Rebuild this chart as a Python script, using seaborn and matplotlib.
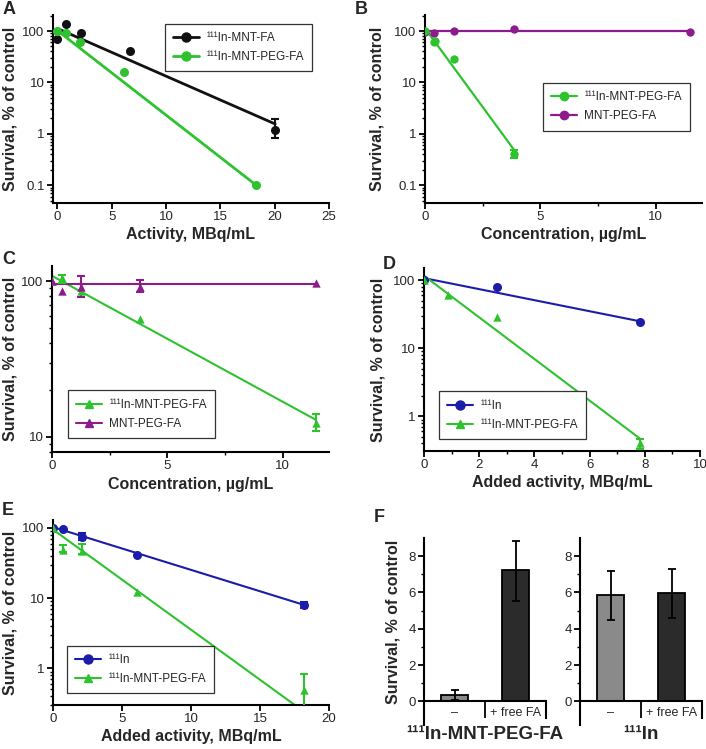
import matplotlib
matplotlib.use("Agg")
import matplotlib.pyplot as plt
import matplotlib.ticker as mticker
from matplotlib.lines import Line2D
import seaborn as sns
import numpy as np

# ---------------- data ----------------
# panel A: activity (MBq/mL) vs survival (%)
a_fa_x = [0, 0.8, 2.2, 6.7, 20.05]
a_fa_y = [69, 135, 92, 41, 1.2]
a_fa_err_x = [20.05]
a_fa_err_lo = [0.82]
a_fa_err_hi = [1.95]
a_fa_fit_x = [0, 20.05]
a_fa_fit_y = [112, 1.55]
a_peg_x = [0, 0.8, 2.1, 6.1, 18.3]
a_peg_y = [100, 90, 60, 16, 0.1]
a_peg_fit_x = [0, 18.3]
a_peg_fit_y = [102, 0.1]

# panel B: concentration (ug/mL)
b_peg_x = [0, 0.39, 0.42, 1.27, 3.84]
b_peg_y = [100, 60, 64, 29, 0.4]
b_peg_err_x = [3.84]
b_peg_err_lo = [0.34]
b_peg_err_hi = [0.48]
b_peg_fit_x = [0, 3.84]
b_peg_fit_y = [113, 0.5]
b_mnt_x = [0, 0.4, 1.27, 3.84, 11.49]
b_mnt_y = [96, 90, 100, 108, 97]
b_mnt_fit_x = [0, 11.49]
b_mnt_fit_y = [99, 99]

# panel C
c_peg_x = [0, 0.43, 1.27, 3.81, 11.42]
c_peg_y = [100, 104, 87, 57.5, 12.2]
c_peg_err_x = [0.43, 11.42]
c_peg_err_lo = [97.6, 10.9]
c_peg_err_hi = [110, 14]
c_peg_fit_x = [0, 11.42]
c_peg_fit_y = [108, 12.9]
c_mnt_x = [0, 0.43, 1.27, 3.81, 11.42]
c_mnt_y = [100, 86.6, 92, 92, 96.7]
c_mnt_err_x = [1.27, 3.81]
c_mnt_err_lo = [79, 85]
c_mnt_err_hi = [108, 101]
c_mnt_fit_x = [0, 11.42]
c_mnt_fit_y = [96, 96]

# panel D: added activity (MBq/mL)
d_in_x = [0, 2.63, 7.83]
d_in_y = [100, 79, 24.4]
d_in_fit_x = [0, 7.83]
d_in_fit_y = [108, 25]
d_peg_x = [0, 0.88, 2.63, 7.83]
d_peg_y = [100, 61.6, 28.5, 0.4]
d_peg_err_x = [7.83]
d_peg_err_lo = [0.33]
d_peg_err_hi = [0.47]
d_peg_fit_x = [0, 7.83]
d_peg_fit_y = [117, 0.47]

# panel E
e_in_x = [0, 0.73, 2.11, 6.12, 18.2]
e_in_y = [100, 98, 74.5, 40.9, 8.0]
e_in_err_x = [2.11, 18.2]
e_in_err_lo = [67, 7.3]
e_in_err_hi = [85, 8.9]
e_in_fit_x = [0, 18.2]
e_in_fit_y = [103, 8.0]
e_peg_x = [0, 0.73, 2.11, 6.12, 18.2]
e_peg_y = [100, 49.3, 47, 12.4, 0.49]
e_peg_err_x = [0.73, 2.11, 18.2]
e_peg_err_lo = [45.6, 42, 0.2]
e_peg_err_hi = [58, 60, 0.82]
e_peg_fit_x = [0, 18.2]
e_peg_fit_y = [95, 0.24]

# panel F: bars
f_cats = ["\u2013", "+ free FA"]
f_peg_vals = [0.33, 7.22]
f_peg_lo = [0.05, 5.52]
f_peg_hi = [0.64, 8.86]
f_in_vals = [5.85, 5.97]
f_in_lo = [4.48, 4.57]
f_in_hi = [7.18, 7.29]

# ---------------- style ----------------
sns.set_theme(style="ticks")
plt.rcParams["font.family"] = ["Liberation Sans", "DejaVu Sans"]
plt.rcParams["axes.linewidth"] = 1.5

GREEN = "#2fc22f"
BLACK = "#111111"
PURPLE = "#8c1b8c"
BLUE = "#1c1caa"
GRAY = "#8a8a8a"
DARK = "#2b2b2b"

YLAB = "Survival, % of control"
TICK_FS = 9.5
LAB_FS = 11.5
LEG_FS = 8.5

W, H = 706, 749
fig = plt.figure(figsize=(W / 100, H / 100), dpi=100)


def add_ax(l, r, t, b):
    return fig.add_axes([l / W, 1 - b / H, (r - l) / W, (b - t) / H])


def style_log(ax, xlim, ylim, xticks, yticks, xminor=None):
    ax.set_yscale("log")
    ax.set_xlim(*xlim)
    ax.set_ylim(*ylim)
    ax.set_xticks(xticks)
    if xminor is not None:
        ax.set_xticks(xminor, minor=True)
    ax.set_yticks(yticks)
    ax.yaxis.set_major_formatter(mticker.FuncFormatter(lambda v, _: f"{v:g}"))
    ax.yaxis.set_minor_locator(mticker.LogLocator(base=10, subs=np.arange(2, 10)))
    ax.yaxis.set_minor_formatter(mticker.NullFormatter())
    ax.tick_params(which="major", direction="out", length=4, width=1.3,
                   labelsize=TICK_FS, color="black", pad=2)
    ax.tick_params(which="minor", direction="out", length=2.5, width=1.0, color="black")
    sns.despine(ax=ax)
    for s in ["left", "bottom"]:
        ax.spines[s].set_color("black")


def series(ax, x, y, fx, fy, color, marker, ms, lw, ex=None, elo=None, ehi=None):
    sns.lineplot(x=fx, y=fy, ax=ax, color=color, lw=lw, zorder=2)
    if ex is not None:
        ey = [y[x.index(v)] for v in ex]
        ax.errorbar(ex, ey,
                    yerr=[np.array(ey) - np.array(elo), np.array(ehi) - np.array(ey)],
                    fmt="none", ecolor=color, elinewidth=1.5, capsize=3, capthick=1.5,
                    zorder=3)
    sns.scatterplot(x=x, y=y, ax=ax, color=color, marker=marker, s=ms ** 2,
                    edgecolor=color, linewidth=0, zorder=4)


def handle(color, marker, ms, lw):
    return Line2D([], [], color=color, marker=marker, markersize=ms, lw=lw)


def legend(ax, handles, labels, loc, anchor):
    leg = ax.legend(handles, labels, loc=loc, bbox_to_anchor=anchor, fontsize=LEG_FS,
                    frameon=True, fancybox=False, framealpha=1, edgecolor="#333333",
                    handlelength=2.2, borderpad=0.7, labelspacing=0.6, handletextpad=0.6)
    leg.get_frame().set_linewidth(0.9)


def labels(ax, xl, ylx):
    ax.set_xlabel(xl, fontsize=LAB_FS, fontweight="bold", labelpad=3)
    ax.set_ylabel(YLAB, fontsize=LAB_FS, fontweight="bold")
    ax.yaxis.set_label_coords(ylx, 0.5)


# ---------------- A ----------------
ax = add_ax(53, 329, 15, 203)
series(ax, a_fa_x, a_fa_y, a_fa_fit_x, a_fa_fit_y, BLACK, "o", 6.5, 2.0,
       a_fa_err_x, a_fa_err_lo, a_fa_err_hi)
series(ax, a_peg_x, a_peg_y, a_peg_fit_x, a_peg_fit_y, GREEN, "o", 6.5, 2.0)
style_log(ax, (-0.4, 25), (0.045, 205), [0, 5, 10, 15, 20, 25], [0.1, 1, 10, 100])
labels(ax, "Activity, MBq/mL", -0.127)
legend(ax, [handle(BLACK, "o", 6.5, 2.0), handle(GREEN, "o", 6.5, 2.0)],
       ["\u00b9\u00b9\u00b9In-MNT-FA", "\u00b9\u00b9\u00b9In-MNT-PEG-FA"],
       "upper right", (0.96, 0.985))

# ---------------- B ----------------
ax = add_ax(425, 702, 15, 203)
series(ax, b_mnt_x, b_mnt_y, b_mnt_fit_x, b_mnt_fit_y, PURPLE, "o", 6, 1.6)
series(ax, b_peg_x, b_peg_y, b_peg_fit_x, b_peg_fit_y, GREEN, "o", 6, 1.6,
       b_peg_err_x, b_peg_err_lo, b_peg_err_hi)
style_log(ax, (0, 12.0), (0.045, 205), [0, 5, 10], [0.1, 1, 10, 100], [2.5, 7.5])
labels(ax, "Concentration, \u00b5g/mL", -0.148)
legend(ax, [handle(GREEN, "o", 6, 1.6), handle(PURPLE, "o", 6, 1.6)],
       ["\u00b9\u00b9\u00b9In-MNT-PEG-FA", "MNT-PEG-FA"], "upper right", (0.978, 0.67))

# ---------------- C ----------------
ax = add_ax(52, 329, 266, 452)
series(ax, c_peg_x, c_peg_y, c_peg_fit_x, c_peg_fit_y, GREEN, "^", 6, 1.5,
       c_peg_err_x, c_peg_err_lo, c_peg_err_hi)
series(ax, c_mnt_x, c_mnt_y, c_mnt_fit_x, c_mnt_fit_y, PURPLE, "^", 6, 1.5,
       c_mnt_err_x, c_mnt_err_lo, c_mnt_err_hi)
style_log(ax, (0, 12.0), (8.0, 125), [0, 5, 10], [10, 100], [2.5, 7.5])
labels(ax, "Concentration, \u00b5g/mL", -0.123)
legend(ax, [handle(GREEN, "^", 6, 1.5), handle(PURPLE, "^", 6, 1.5)],
       ["\u00b9\u00b9\u00b9In-MNT-PEG-FA", "MNT-PEG-FA"], "lower left", (0.036, 0.043))

# ---------------- D ----------------
ax = add_ax(424, 700, 268, 451)
series(ax, d_in_x, d_in_y, d_in_fit_x, d_in_fit_y, BLUE, "o", 6.5, 1.5)
series(ax, d_peg_x, d_peg_y, d_peg_fit_x, d_peg_fit_y, GREEN, "^", 6, 1.5,
       d_peg_err_x, d_peg_err_lo, d_peg_err_hi)
style_log(ax, (0, 10), (0.31, 152), [0, 2, 4, 6, 8, 10], [1, 10, 100], [1, 3, 5, 7, 9])
labels(ax, "Added activity, MBq/mL", -0.138)
legend(ax, [handle(BLUE, "o", 6.5, 1.5), handle(GREEN, "^", 6, 1.5)],
       ["\u00b9\u00b9\u00b9In", "\u00b9\u00b9\u00b9In-MNT-PEG-FA"], "lower left", (0.033, 0.033))

# ---------------- E ----------------
ax = add_ax(53, 329, 520, 705)
series(ax, e_in_x, e_in_y, e_in_fit_x, e_in_fit_y, BLUE, "o", 6.5, 1.5,
       e_in_err_x, e_in_err_lo, e_in_err_hi)
series(ax, e_peg_x, e_peg_y, e_peg_fit_x, e_peg_fit_y, GREEN, "^", 6, 1.5,
       e_peg_err_x, e_peg_err_lo, e_peg_err_hi)
style_log(ax, (0, 20), (0.30, 130), [0, 5, 10, 15, 20], [1, 10, 100])
labels(ax, "Added activity, MBq/mL", -0.127)
legend(ax, [handle(BLUE, "o", 6.5, 1.5), handle(GREEN, "^", 6, 1.5)],
       ["\u00b9\u00b9\u00b9In", "\u00b9\u00b9\u00b9In-MNT-PEG-FA"], "lower left", (0.029, 0.032))


# ---------------- F ----------------
def bar_panel(ax, vals, lo, hi, group, ylab):
    sns.barplot(x=f_cats, y=vals, hue=f_cats, palette=[GRAY, DARK], legend=False,
                width=0.44, edgecolor="black", linewidth=1.3, ax=ax, zorder=2)
    ax.errorbar([0, 1], vals, yerr=[np.array(vals) - np.array(lo), np.array(hi) - np.array(vals)],
                fmt="none", ecolor="black", elinewidth=1.3, capsize=3, capthick=1.3, zorder=3)
    ax.set_xlim(-0.5, 1.5)
    ax.set_ylim(-1.3, 9.0)
    ax.set_yticks([0, 2, 4, 6, 8])
    ax.set_yticks([1, 3, 5, 7], minor=True)
    ax.set_xticks([])
    ax.tick_params(which="major", direction="out", length=4, width=1.3,
                   labelsize=TICK_FS, color="black", pad=2)
    ax.tick_params(which="minor", direction="out", length=2.5, width=1.0, color="black")
    for s in ["top", "bottom"]:
        ax.spines[s].set_visible(False)
    ax.spines["left"].set_color("black")
    ax.spines["right"].set_color("black")
    ax.spines["right"].set_bounds(-0.9, 0)
    ax.axhline(0, color="black", lw=1.5, zorder=4)
    ax.vlines(0.5, -0.9, 0, color="black", lw=1.3)
    for i, c in enumerate(f_cats):
        ax.text(i, -0.62, c, ha="center", va="center", fontsize=9)
    ax.set_xlabel(group, fontsize=13.5, fontweight="bold", labelpad=1)
    if ylab:
        ax.set_ylabel(YLAB, fontsize=LAB_FS, fontweight="bold")
        ax.yaxis.set_label_coords(-0.19, 0.55)
    else:
        ax.set_ylabel("")


ax = add_ax(424, 546, 538, 725)
bar_panel(ax, f_peg_vals, f_peg_lo, f_peg_hi, "\u00b9\u00b9\u00b9In-MNT-PEG-FA", True)
ax = add_ax(580, 702, 538, 725)
bar_panel(ax, f_in_vals, f_in_lo, f_in_hi, "\u00b9\u00b9\u00b9In", False)

# panel letters
for letter, px, py in [("A", 3, 1), ("B", 355, 1), ("C", 2, 251), ("D", 383, 256),
                       ("E", 2, 502), ("F", 374, 509)]:
    fig.text(px / W, 1 - py / H, letter, fontsize=13, fontweight="bold", va="top", ha="left")

fig.savefig("out.png", dpi=100)
